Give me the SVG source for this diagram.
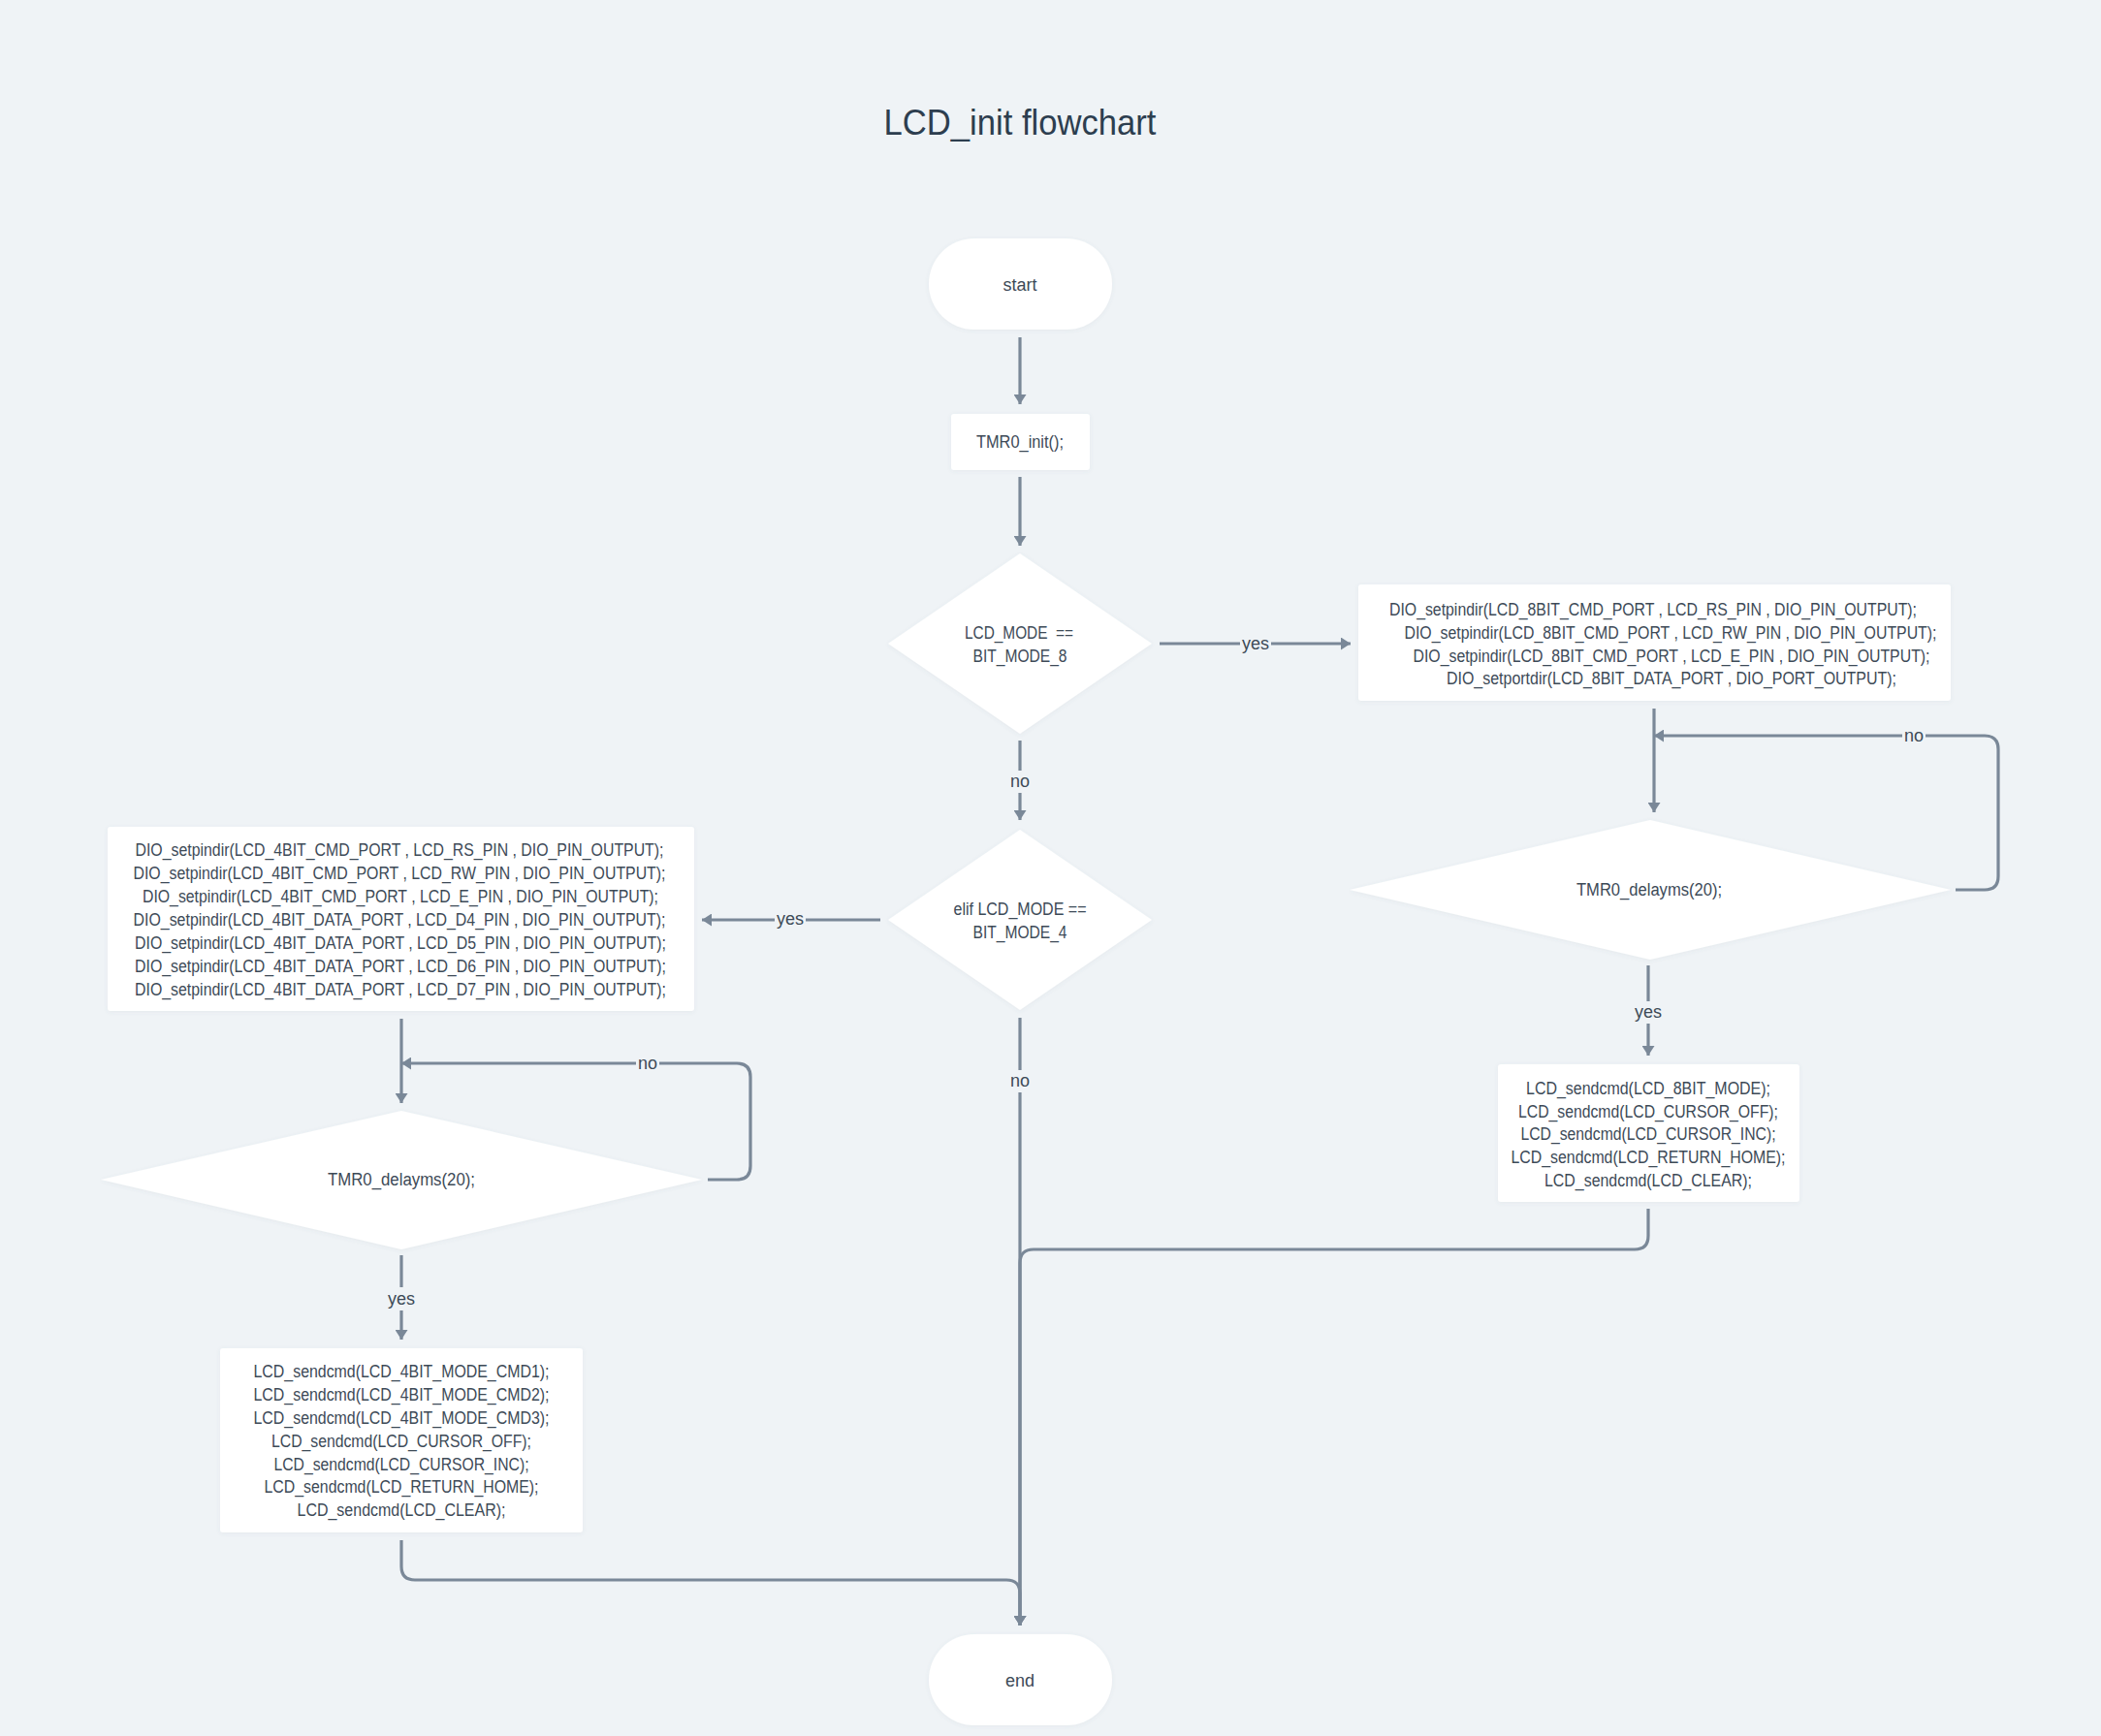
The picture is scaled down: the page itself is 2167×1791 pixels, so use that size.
<svg xmlns="http://www.w3.org/2000/svg" width="2167" height="1791" viewBox="0 0 2167 1791">
<style>
.bg{fill:#eff3f6}
.node{fill:#ffffff;filter:url(#sh)}
.t{font-family:"Liberation Sans",Arial,sans-serif;font-size:18px;fill:#3d4a57;text-anchor:middle;dominant-baseline:central}
.title{font-family:"Liberation Sans",Arial,sans-serif;font-size:36px;fill:#2d3e4f;text-anchor:middle}
.edge{fill:none;stroke:#7a8898;stroke-width:3.2}
.arr{marker-end:url(#ah)}
.lb{fill:#eff3f6}
.lt{font-family:"Liberation Sans",Arial,sans-serif;font-size:18px;fill:#3d4a57;text-anchor:middle;dominant-baseline:central}
</style>
<defs>
<filter id="sh" x="-10%" y="-10%" width="120%" height="130%">
<feDropShadow dx="0" dy="1" stdDeviation="2" flood-color="#5a6b7c" flood-opacity="0.08"/>
</filter>
<marker id="ah" markerUnits="userSpaceOnUse" viewBox="0 0 10 13" markerWidth="10" markerHeight="13" refX="10" refY="6.5" orient="auto">
<path d="M0,0 L10,6.5 L0,13 Z" fill="#7a8898"/>
</marker>
</defs>
<rect class="bg" x="0" y="0" width="2167" height="1791"/>
<text class="title" x="1052" y="139" textLength="281" lengthAdjust="spacingAndGlyphs">LCD_init flowchart</text>

<g id="connectors">
<path class="edge arr" d="M1052 348 V417"/>
<path class="edge arr" d="M1052 492 V563"/>
<path class="edge arr" d="M1196 664 H1393"/>
<path class="edge arr" d="M1052 764 V846"/>
<path class="edge arr" d="M1706 731 V838"/>
<path class="edge arr" d="M2017 918 H2047 Q2061 918 2061 904 V773 Q2061 759 2047 759 H1706"/>
<path class="edge arr" d="M1700 996 V1089"/>
<path class="edge arr" d="M1700 1247 V1275 Q1700 1289 1686 1289 H1066 Q1052 1289 1052 1303 V1677"/>
<path class="edge arr" d="M908 949 H724"/>
<path class="edge arr" d="M1052 1050 V1677"/>
<path class="edge arr" d="M414 1051 V1138"/>
<path class="edge arr" d="M730 1217 H760 Q774 1217 774 1203 V1111 Q774 1097 760 1097 H414"/>
<path class="edge arr" d="M414 1295 V1382"/>
<path class="edge arr" d="M414 1589 V1616 Q414 1630 428 1630 H1038 Q1052 1630 1052 1644 V1677"/>
<rect class="lb" x="1279" y="654" width="32" height="20"/><text class="lt" x="1295" y="664">yes</text>
<rect class="lb" x="1040" y="795" width="24" height="23"/><text class="lt" x="1052" y="806">no</text>
<rect class="lb" x="1962" y="749" width="24" height="20"/><text class="lt" x="1974" y="759">no</text>
<rect class="lb" x="1684" y="1033" width="32" height="23"/><text class="lt" x="1700" y="1044">yes</text>
<rect class="lb" x="799" y="939" width="32" height="20"/><text class="lt" x="815" y="948">yes</text>
<rect class="lb" x="1040" y="1104" width="24" height="23"/><text class="lt" x="1052" y="1115">no</text>
<rect class="lb" x="656" y="1087" width="24" height="20"/><text class="lt" x="668" y="1097">no</text>
<rect class="lb" x="398" y="1328" width="32" height="24"/><text class="lt" x="414" y="1340">yes</text>
</g>

<g id="start">
<rect class="node" x="958" y="246" width="189" height="94" rx="47"/>
<text class="t" x="1052" y="294">start</text>
</g>
<g id="tmr0_init">
<rect class="node" x="981" y="427" width="143" height="58" rx="3"/>
<text class="t" x="1052" y="456" textLength="90" lengthAdjust="spacingAndGlyphs">TMR0_init();</text>
</g>
<g id="dec_8bit">
<polygon class="node" points="1052,571 1188,664 1052,757 916,664"/>
<text class="t" x="1051" y="653" xml:space="preserve" textLength="112" lengthAdjust="spacingAndGlyphs">LCD_MODE  ==</text>
<text class="t" x="1052" y="677" textLength="97" lengthAdjust="spacingAndGlyphs">BIT_MODE_8</text>
</g>
<g id="setup_8bit">
<rect class="node" x="1401" y="603" width="611" height="120" rx="3"/>
<text class="t" x="1705" y="629" textLength="544" lengthAdjust="spacingAndGlyphs">DIO_setpindir(LCD_8BIT_CMD_PORT , LCD_RS_PIN , DIO_PIN_OUTPUT);</text>
<text class="t" x="1723" y="653" textLength="549" lengthAdjust="spacingAndGlyphs">DIO_setpindir(LCD_8BIT_CMD_PORT , LCD_RW_PIN , DIO_PIN_OUTPUT);</text>
<text class="t" x="1724" y="677" textLength="533" lengthAdjust="spacingAndGlyphs">DIO_setpindir(LCD_8BIT_CMD_PORT , LCD_E_PIN , DIO_PIN_OUTPUT);</text>
<text class="t" x="1724" y="700" textLength="464" lengthAdjust="spacingAndGlyphs">DIO_setportdir(LCD_8BIT_DATA_PORT , DIO_PORT_OUTPUT);</text>
</g>
<g id="delay_8bit">
<polygon class="node" points="1702,846 2012,918 1702,990 1392,918"/>
<text class="t" x="1701" y="918" textLength="150" lengthAdjust="spacingAndGlyphs">TMR0_delayms(20);</text>
</g>
<g id="cmds_8bit">
<rect class="node" x="1545" y="1098" width="311" height="142" rx="3"/>
<text class="t" x="1700" y="1123" textLength="252" lengthAdjust="spacingAndGlyphs">LCD_sendcmd(LCD_8BIT_MODE);</text>
<text class="t" x="1700" y="1147" textLength="268" lengthAdjust="spacingAndGlyphs">LCD_sendcmd(LCD_CURSOR_OFF);</text>
<text class="t" x="1700" y="1170" textLength="263" lengthAdjust="spacingAndGlyphs">LCD_sendcmd(LCD_CURSOR_INC);</text>
<text class="t" x="1700" y="1194" textLength="283" lengthAdjust="spacingAndGlyphs">LCD_sendcmd(LCD_RETURN_HOME);</text>
<text class="t" x="1700" y="1218" textLength="214" lengthAdjust="spacingAndGlyphs">LCD_sendcmd(LCD_CLEAR);</text>
</g>
<g id="dec_4bit">
<polygon class="node" points="1052,856 1188,949 1052,1042 916,949"/>
<text class="t" x="1052" y="938" textLength="137" lengthAdjust="spacingAndGlyphs">elif LCD_MODE ==</text>
<text class="t" x="1052" y="962" textLength="97" lengthAdjust="spacingAndGlyphs">BIT_MODE_4</text>
</g>
<g id="setup_4bit">
<rect class="node" x="111" y="853" width="605" height="190" rx="3"/>
<text class="t" x="412" y="877" textLength="545" lengthAdjust="spacingAndGlyphs">DIO_setpindir(LCD_4BIT_CMD_PORT , LCD_RS_PIN , DIO_PIN_OUTPUT);</text>
<text class="t" x="412" y="901" textLength="549" lengthAdjust="spacingAndGlyphs">DIO_setpindir(LCD_4BIT_CMD_PORT , LCD_RW_PIN , DIO_PIN_OUTPUT);</text>
<text class="t" x="413" y="925" textLength="532" lengthAdjust="spacingAndGlyphs">DIO_setpindir(LCD_4BIT_CMD_PORT , LCD_E_PIN , DIO_PIN_OUTPUT);</text>
<text class="t" x="412" y="949" textLength="549" lengthAdjust="spacingAndGlyphs">DIO_setpindir(LCD_4BIT_DATA_PORT , LCD_D4_PIN , DIO_PIN_OUTPUT);</text>
<text class="t" x="413" y="973" textLength="548" lengthAdjust="spacingAndGlyphs">DIO_setpindir(LCD_4BIT_DATA_PORT , LCD_D5_PIN , DIO_PIN_OUTPUT);</text>
<text class="t" x="413" y="997" textLength="548" lengthAdjust="spacingAndGlyphs">DIO_setpindir(LCD_4BIT_DATA_PORT , LCD_D6_PIN , DIO_PIN_OUTPUT);</text>
<text class="t" x="413" y="1021" textLength="548" lengthAdjust="spacingAndGlyphs">DIO_setpindir(LCD_4BIT_DATA_PORT , LCD_D7_PIN , DIO_PIN_OUTPUT);</text>
</g>
<g id="delay_4bit">
<polygon class="node" points="414,1146 724,1217 414,1289 104,1217"/>
<text class="t" x="414" y="1217" textLength="152" lengthAdjust="spacingAndGlyphs">TMR0_delayms(20);</text>
</g>
<g id="cmds_4bit">
<rect class="node" x="227" y="1391" width="374" height="190" rx="3"/>
<text class="t" x="414" y="1415" textLength="305" lengthAdjust="spacingAndGlyphs">LCD_sendcmd(LCD_4BIT_MODE_CMD1);</text>
<text class="t" x="414" y="1439" textLength="305" lengthAdjust="spacingAndGlyphs">LCD_sendcmd(LCD_4BIT_MODE_CMD2);</text>
<text class="t" x="414" y="1463" textLength="305" lengthAdjust="spacingAndGlyphs">LCD_sendcmd(LCD_4BIT_MODE_CMD3);</text>
<text class="t" x="414" y="1487" textLength="268" lengthAdjust="spacingAndGlyphs">LCD_sendcmd(LCD_CURSOR_OFF);</text>
<text class="t" x="414" y="1511" textLength="263" lengthAdjust="spacingAndGlyphs">LCD_sendcmd(LCD_CURSOR_INC);</text>
<text class="t" x="414" y="1534" textLength="283" lengthAdjust="spacingAndGlyphs">LCD_sendcmd(LCD_RETURN_HOME);</text>
<text class="t" x="414" y="1558" textLength="215" lengthAdjust="spacingAndGlyphs">LCD_sendcmd(LCD_CLEAR);</text>
</g>
<g id="end">
<rect class="node" x="958" y="1686" width="189" height="94" rx="47"/>
<text class="t" x="1052" y="1734">end</text>
</g>
</svg>
